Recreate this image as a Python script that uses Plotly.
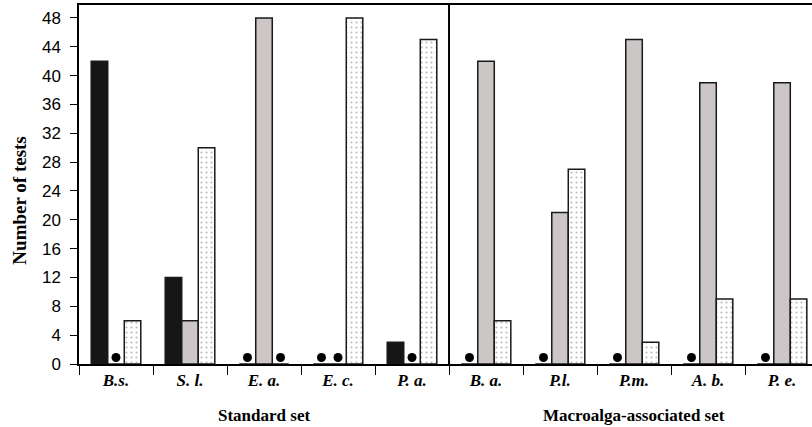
import plotly.graph_objects as go

categories = ["B.s.", "S. l.", "E. a.", "E. c.", "P. a.", "B. a.", "P.l.", "P.m.", "A. b.", "P. e."]
black_vals = [42, 12, 0, 0, 3, 0, 0, 0, 0, 0]
grey_vals = [0, 6, 48, 0, 0, 42, 21, 45, 39, 39]
dotted_vals = [6, 30, 0, 48, 45, 6, 27, 3, 9, 9]
group_labels = ["Standard set", "Macroalga-associated set"]
group_centers = [2, 7]
yticks = list(range(0, 49, 4))
y_title = "Number of tests"

series = [black_vals, grey_vals, dotted_vals]
x = list(range(len(categories)))
bargap = 0.33
bw = (1 - bargap) / 3
outline = dict(color="#1a1a1a", width=1.5)

fig = go.Figure()
fig.add_trace(go.Bar(x=x, y=black_vals, marker=dict(color="#161616", line=outline)))
fig.add_trace(go.Bar(x=x, y=grey_vals, marker=dict(color="#ccc6c6", line=outline)))
fig.add_trace(go.Bar(x=x, y=dotted_vals, marker=dict(
    color="white", line=outline,
    pattern=dict(shape=".", fgcolor="#777777", bgcolor="white", size=5, solidity=0.15))))

# zero markers
dx, dy = [], []
for j, s in enumerate(series):
    for i, v in enumerate(s):
        if v == 0:
            dx.append(i + (j - 1) * bw)
            dy.append(0.9)
fig.add_trace(go.Scatter(x=dx, y=dy, mode="markers",
                         marker=dict(color="black", size=9, line=dict(width=0))))

serif = "Liberation Serif"
fig.update_layout(
    width=812, height=427,
    margin=dict(l=79, r=0, t=5, b=63),
    plot_bgcolor="white", paper_bgcolor="white",
    barmode="group", bargap=bargap, bargroupgap=0,
    showlegend=False,
    xaxis=dict(
        range=[-0.5, 9.405], showgrid=False, zeroline=False,
        showline=True, linecolor="black", linewidth=1.5, mirror=True,
        tickmode="array", tickvals=x,
        ticktext=[f"<b><i>{c}</i></b>" for c in categories],
        ticks="outside", ticklen=0,
        tickfont=dict(family=serif, size=17, color="black"),
        minor=dict(tickmode="array", tickvals=[i - 0.5 for i in range(len(categories) + 1)],
                   ticks="outside", ticklen=9, tickcolor="black", tickwidth=1, showgrid=False),
    ),
    yaxis=dict(
        range=[0, 49.8], showgrid=False, zeroline=False,
        showline=True, linecolor="black", linewidth=1.5,
        tickmode="array", tickvals=yticks,
        ticks="outside", ticklen=7, tickcolor="black",
        ticklabelstandoff=6,
        tickfont=dict(family="Liberation Sans", size=17, color="black"),
    ),
    shapes=[dict(type="line", xref="x", yref="paper", x0=4.5, x1=4.5, y0=0, y1=1,
                 line=dict(color="black", width=2))],
)
fig.add_annotation(x=20, xref="paper", xanchor="center", xshift=0,
                   y=0.455, yref="paper", yanchor="middle", textangle=-90,
                   text=f"<b>{y_title}</b>", showarrow=False,
                   font=dict(family=serif, size=19, color="black"))
# place title by pixel: convert x=20px to paper
fig.layout.annotations[0].x = (20 - 79) / (812 - 79)

for lab, cx in zip(group_labels, group_centers):
    fig.add_annotation(x=cx, xref="x", y=-0.143, yref="paper", yanchor="middle",
                       text=f"<b>{lab}</b>", showarrow=False,
                       font=dict(family=serif, size=17, color="black"))

fig.write_html("out.html")
